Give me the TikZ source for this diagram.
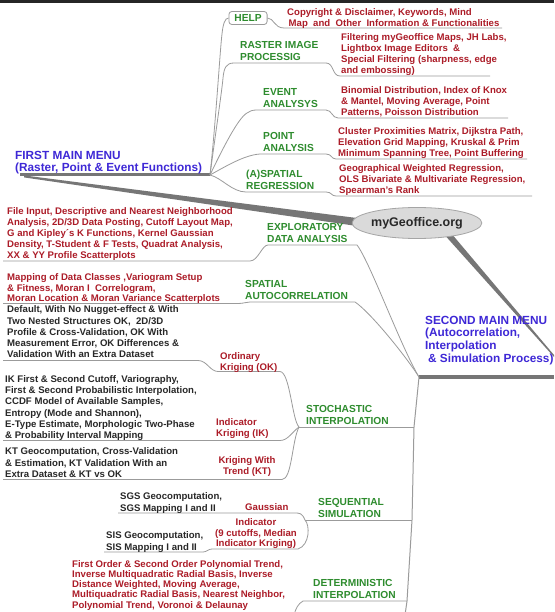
\documentclass[tikz,border=0pt]{standalone}
\usepackage{fontspec}
\setmainfont{Liberation Sans}
\usetikzlibrary{shapes.geometric,calc,backgrounds}
\definecolor{nred}{RGB}{172,28,40}
\definecolor{tgreen}{RGB}{46,140,46}
\definecolor{mblue}{RGB}{62,40,214}
\definecolor{nblack}{RGB}{40,40,40}
\definecolor{lgrey}{RGB}{155,155,155}
\definecolor{tgrey}{RGB}{118,118,118}
\definecolor{geofill}{RGB}{218,218,218}
\definecolor{geodraw}{RGB}{165,165,165}
\begin{document}
\begin{tikzpicture}[x=1pt,y=-1pt,
  note/.style={font=\fontsize{9.6}{10.9}\selectfont\bfseries, text=nred, align=left, inner sep=0pt, anchor=north west},
  bnote/.style={note, text=nblack, font=\fontsize{9.6}{11.3}\selectfont\bfseries},
  topic/.style={font=\fontsize{10.2}{12}\selectfont\bfseries, text=tgreen, align=left, inner sep=0pt, anchor=north west},
  mainmenu/.style={font=\fontsize{11.8}{12.6}\selectfont\bfseries, text=mblue, align=left, inner sep=0pt, anchor=north west},
  link/.style={draw=lgrey, line width=0.8pt},
  thicklink/.style={draw=tgrey, line width=3pt},
]
\useasboundingbox (0,0) rectangle (554,612);
% ---------- nodes ----------
\node[mainmenu] (fmm) at (15,150.7) {FIRST MAIN MENU\\(Raster, Point \& Event Functions)};
\node[topic, draw=lgrey, rounded corners=3pt, line width=0.8pt, inner xsep=5.5pt, inner ysep=3pt, anchor=center] (help) at (248,18) {HELP};
\node[note] (helpn) at (287,8.6) {Copyright \& Disclaimer, Keywords, Mind\\\hspace{1.5pt}Map\ \ and\ \ Other\ \ Information \& Functionalities};
\node[topic] (rip) at (240,41.3) {RASTER IMAGE\\PROCESSIG};
\node[note] (ripn) at (341,33.6) {Filtering myGeoffice Maps, JH Labs,\\Lightbox Image Editors\ \ \&\\Special Filtering (sharpness, edge\\and embossing)};
\node[topic] (ea) at (263,88.3) {EVENT\\ANALYSYS};
\node[note] (ean) at (341,86.6) {Binomial Distribution, Index of Knox\\\& Mantel, Moving Average, Point\\Patterns, Poisson Distribution};
\node[topic] (pa) at (263,132.3) {POINT\\ANALYSIS};
\node[note] (pan) at (338,127.6) {Cluster Proximities Matrix, Dijkstra Path,\\Elevation Grid Mapping, Kruskal \& Prim\\Minimum Spanning Tree, Point Buffering};
\node[topic] (sr) at (246,170.3) {(A)SPATIAL\\REGRESSION};
\node[note] (srn) at (339,164.6) {Geographical Weighted Regression,\\OLS Bivariate \& Multivariate Regression,\\Spearman's Rank};
\node[ellipse, fill=geofill, draw=geodraw, line width=0.8pt, minimum width=113pt, minimum height=31pt, inner sep=0pt, font=\fontsize{12.5}{14}\selectfont\bfseries, text=nblack] (geo) at (417,223) {myGeoffice.org};
\node[topic] (eda) at (267,223.3) {EXPLORATORY\\DATA ANALYSIS};
\node[note] (edan) at (7,207.6) {File Input, Descriptive and Nearest Neighborhood\\Analysis, 2D/3D Data Posting, Cutoff Layout Map,\\G and Kipley´s K Functions, Kernel Gaussian\\Density, T-Student \& F Tests, Quadrat Analysis,\\XX \& YY Profile Scatterplots};
\node[topic] (sa) at (245,280.3) {SPATIAL\\AUTOCORRELATION};
\node[note, font=\fontsize{9.6}{10.3}\selectfont\bfseries] (san) at (7,273.8) {Mapping of Data Classes ,Variogram Setup\\\& Fitness, Moran I\ \ Correlogram,\\Moran Location \& Moran Variance Scatterplots};
\node[mainmenu] (smm) at (425,315.8) {SECOND MAIN MENU\\(Autocorrelation,\\Interpolation\\\hspace{3pt}\& Simulation Process)};
\node[topic] (si) at (306,405.3) {STOCHASTIC\\INTERPOLATION};
\node[bnote] (okn) at (7,305.6) {Default, With No Nugget-effect \& With\\Two Nested Structures OK,\ \ 2D/3D\\Profile \& Cross-Validation, OK With\\Measurement Error, OK Differences \&\\Validation With an Extra Dataset};
\node[note] (okl) at (220,352) {Ordinary\\Kriging (OK)};
\node[bnote] (ikn) at (5,375) {IK First \& Second Cutoff, Variography,\\First \& Second Probabilistic Interpolation,\\CCDF Model of Available Samples,\\Entropy (Mode and Shannon),\\E-Type Estimate, Morphologic Two-Phase\\\& Probability Interval Mapping};
\node[note] (ikl) at (216,418.6) {Indicator\\Kriging (IK)};
\node[bnote] (ktn) at (5,447.6) {KT Geocomputation, Cross-Validation\\\& Estimation, KT Validation With an\\Extra Dataset \& KT vs OK};
\node[note, align=center, anchor=north] (ktl) at (247,456) {Kriging With\\Trend (KT)};
\node[topic] (ss) at (318,498.3) {SEQUENTIAL\\SIMULATION};
\node[bnote] (sgsn) at (120,492.6) {SGS Geocomputation,\\SGS Mapping I and II};
\node[note] (gl) at (245,503) {Gaussian};
\node[bnote] (sisn) at (106,531.6) {SIS Geocomputation,\\SIS Mapping I and II};
\node[note, align=center, anchor=north] (indl) at (256,518) {Indicator\\(9 cutoffs, Median\\Indicator Kriging)};
\node[topic] (di) at (313,579.3) {DETERMINISTIC\\INTERPOLATION};
\node[note, font=\fontsize{9.6}{10.2}\selectfont\bfseries] (din) at (72,560.2) {First Order \& Second Order Polynomial Trend,\\Inverse Multiquadratic Radial Basis, Inverse\\Distance Weighted, Moving Average,\\Multiquadratic Radial Basis, Nearest Neighbor,\\Polynomial Trend, Voronoi \& Delaunay};
% ---------- coordinates ----------
\coordinate (b1) at (210,175);
\coordinate (t0) at (419,377);
\coordinate (ts) at (414,427);
\coordinate (tq) at (412,520);
\coordinate (td) at (407,601);
\coordinate (tend) at (405,615);
\coordinate (j1) at (299,427);
\coordinate (j2) at (305,520);
\coordinate (j3) at (303,601);
\coordinate (redge) at (554,377);
% ---------- connectors ----------
\begin{scope}[on background layer]
\fill[white] (0,0) rectangle (554,612);
\draw[line width=2.6pt, black!85] (0,1.3) -- (554,1.3);
% first menu
\draw[thicklink] (20,175) -- (b1);
\fill[tgrey] (24,175.4) -- ($(geo.west)+(5,-5)$) -- ($(geo.west)+(5,3)$) -- (24,177.4) -- cycle;
\draw[link] (b1) .. controls (216,120) and (220,50) .. (222,34) .. controls (223,24) and (225,18) .. (help.west);
\draw[link] (help.east) .. controls (274,18) and (274,28) .. (284,28) -- (502,28);
\draw[link] (b1) .. controls (216,130) and (222,90) .. (223,78) .. controls (224,68) and (226,63) .. (234,63) -- (326,63) .. controls (334,63) and (332,76) .. (340,76) -- (490,76);
\draw[link] (b1) .. controls (222,150) and (238,118) .. (247,113) .. controls (250,111) and (252,110) .. (257,110) -- (326,110) .. controls (332,110) and (332,118) .. (338,118) -- (508,118);
\draw[link] (b1) .. controls (228,165) and (245,155) .. (260,154) -- (326,154) .. controls (332,154) and (331,159) .. (336,159) -- (527,159);
\draw[link] (b1) .. controls (222,178) and (232,192) .. (246,192) -- (326,192) .. controls (332,192) and (331,196) .. (336,196) -- (532,196);
% second menu
\fill[tgrey] ($(geo.-23)+(-5,-2)$) -- ($(geo.-23)+(3,-2)$) -- (554,355) -- (554,357) -- cycle;
\draw[thicklink, line width=3.5pt] (t0) -- (redge);
\draw[link, line width=1pt] (t0) -- (ts) -- (tq) -- (td) -- (tend);
\draw[link] (t0) .. controls (400,345) and (370,262) .. (357,245) -- (268,245) .. controls (262,245) and (258,261) .. (250,261) -- (3,261);
\draw[link] (t0) .. controls (405,355) and (370,312) .. (355,302) -- (250,302) .. controls (246,302) and (244,303.5) .. (238,303.5) -- (3,303.5);
\draw[link] (ts) -- (j1);
\draw[link] (j1) .. controls (292,420) and (290,372) .. (280,371.5) -- (218,371.5) .. controls (210,371.5) and (207,360.5) .. (198,360.5) -- (3,360.5);
\draw[link] (j1) .. controls (292,432) and (288,440.5) .. (280,440.5) -- (3,440.5);
\draw[link] (j1) .. controls (292,440) and (292,479.5) .. (282,479.5) -- (3,479.5);
\draw[link] (tq) -- (j2);
\draw[link] (j2) .. controls (302,513) and (300,513) .. (294,513) -- (235,513) .. controls (230,513) and (230,513) .. (225,513) -- (118,513);
\draw[link] (j2) .. controls (310,525) and (310,545) .. (298,549) -- (212,549) .. controls (208,549) and (207,552) .. (203,552) -- (104,552);
\draw[link] (td) -- (j3) .. controls (298,604) and (296,608) .. (294,615);
\end{scope}
\end{tikzpicture}
\end{document}
